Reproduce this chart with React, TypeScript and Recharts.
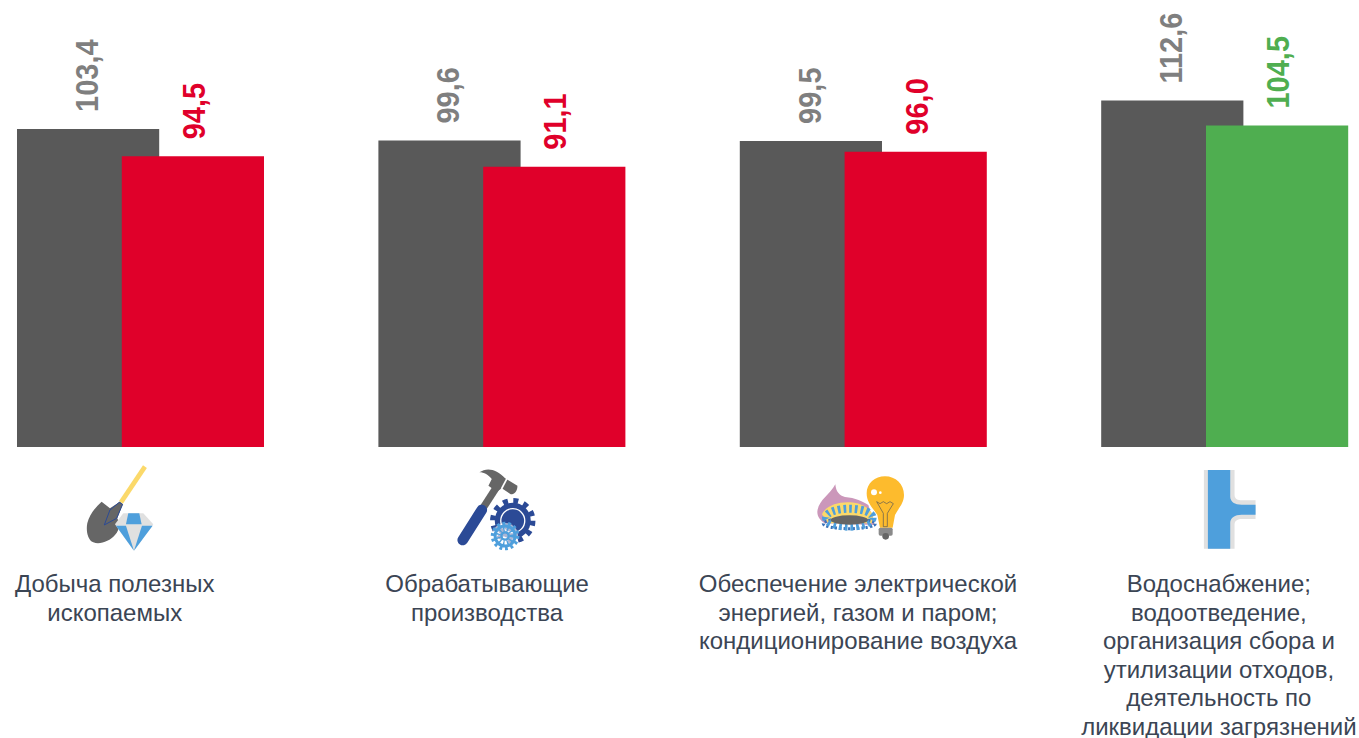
import React from "react";
import { BarChart, Bar, XAxis, YAxis, Cell, LabelList } from "recharts";

const categories = ["mining", "manufacturing", "energy", "water"];
const previousValues = [103.4, 99.6, 99.5, 112.6];
const currentValues = [94.5, 91.1, 96.0, 104.5];
const categoryLines = [
  ["Добыча полезных", "ископаемых"],
  ["Обрабатывающие", "производства"],
  ["Обеспечение электрической", "энергией, газом и паром;", "кондиционирование воздуха"],
  ["Водоснабжение;", "водоотведение,", "организация сбора и", "утилизации отходов,", "деятельность по", "ликвидации загрязнений"],
];

const data = categories.map((name, i) => ({
  name,
  previous: previousValues[i],
  current: currentValues[i],
}));

const GREY = "#595959";
const RED = "#e0002a";
const GREEN = "#4fae50";
const LABEL_GREY = "#7f7f7f";
const TEXT = "#3b4554";
const BLUE = "#4e9fdc";
const NAVY = "#2b4a96";

// horizontal shift of the caption against the bar group
const textShift = [-26, -15, -5.5, -6];
// left edge of each icon against the bar group (icons are drawn at 3x)
const iconShift = [-80.75, -62, -63.5, -55];

const ShovelIcon = () => (
  <g>
    <line x1={255} y1={35} x2={183} y2={142} stroke="#fbd96a" strokeWidth={14} />
    <path d="M125,140 L150,160 L180,140 L188,148 L172,190 C180,205 180,225 165,240 C150,258 120,270 100,262 C82,255 78,225 82,205 C88,180 105,158 125,140 Z" fill="#666666" />
    <path d="M178,142 L188,148 L170,190 L133,210 L150,165 Z" fill="#666666" stroke={NAVY} strokeWidth={3} />
    <path d="M190,175 L250,175 L280,208 L222,287 L165,208 Z" fill="#e0e0e0" />
    <path d="M205,175 L238,175 L245,208 L198,208 Z" fill={BLUE} />
    <path d="M198,212 L222,287 L168,212 Z" fill={BLUE} />
    <path d="M246,212 L222,287 L278,212 Z" fill={BLUE} />
  </g>
);

const HammerIcon = () => (
  <g>
    <line x1={170} y1={95} x2={125} y2={165} stroke="#666666" strokeWidth={22} />
    <line x1={125} y1={165} x2={68} y2={255} stroke={NAVY} strokeWidth={32} strokeLinecap="round" />
    <path d="M118,52 C140,36 170,42 195,70 L232,92 C232,108 224,118 212,118 L185,100 L170,110 L145,92 L155,72 C145,60 132,52 118,52 Z" fill="#666666" />
    <line x1={202} y1={68} x2={184} y2={102} stroke="#ffffff" strokeWidth={5} />
    <circle cx={218} cy={197} r={60} fill="none" stroke={NAVY} strokeWidth={16} strokeDasharray="15 16.4" />
    <circle cx={218} cy={197} r={54} fill={NAVY} />
    <circle cx={218} cy={197} r={36} fill="none" stroke="#ffffff" strokeWidth={4} />
    <circle cx={195} cy={243} r={39} fill="#ffffff" opacity={0.6} />
    <circle cx={195} cy={243} r={38} fill="none" stroke={BLUE} strokeWidth={10} strokeDasharray="8.5 8.5" />
    <circle cx={195} cy={243} r={30} fill="none" stroke={BLUE} strokeWidth={9} />
    <circle cx={195} cy={243} r={11} fill="none" stroke={BLUE} strokeWidth={7} />
    <circle cx={195} cy={243} r={20} fill="none" stroke={BLUE} strokeWidth={14} strokeDasharray="4 7" />
  </g>
);

const BurnerIcon = () => (
  <g>
    <path d="M52,170 C55,135 90,120 106,88 C108,110 118,122 135,126 C165,128 190,140 205,150 L225,210 L75,205 C60,195 52,185 52,170 Z" fill="#cb97ba" />
    <path d="M66,178 C75,155 110,140 150,142 C180,144 205,155 220,180 L215,205 L85,205 Z" fill="#fbd96a" />
    <ellipse cx={148} cy={206} rx={78} ry={15} fill="none" stroke="#3b72b8" strokeWidth={9} strokeDasharray="7 6" />
    <ellipse cx={148} cy={188} rx={70} ry={27} fill="none" stroke={BLUE} strokeWidth={24} strokeDasharray="8 9" />
    <ellipse cx={148} cy={195} rx={56} ry={14} fill="#666666" />
    <path d="M200,115 C200,85 225,64 255,64 C287,64 312,88 312,120 C312,145 295,160 285,180 L278,218 L240,218 L232,180 C220,160 200,145 200,115 Z" fill="#fdbb2d" />
    <circle cx={222} cy={112} r={9} fill="#ffffff" />
    <circle cx={241} cy={113} r={4} fill="#ffffff" />
    <path d="M230,140 L240,146 L250,140 L260,146 L270,140 L280,146 L262,175 L262,215 L250,215 L250,175 Z" fill="none" stroke="#555555" strokeWidth={2} />
    <rect x={236} y={218} width={42} height={24} rx={5} fill="#8a8a8a" />
    <circle cx={257} cy={244} r={10} fill="#666666" />
  </g>
);

const PipeIcon = () => (
  <g>
    <path d="M102,45 L194,45 L194,120 C194,132 205,136 215,136 L257,136 L257,192 L215,192 C205,192 194,196 194,208 L194,281 L102,281 Z" fill="#e0e0e0" />
    <path d="M114,45 L181,45 L181,125 C181,140 195,149 215,149 L257,149 L257,179 L215,179 C195,179 181,188 181,203 L181,281 L114,281 Z" fill={BLUE} />
  </g>
);

const icons = [ShovelIcon, HammerIcon, BurnerIcon, PipeIcon];

const CategoryTick = (props: any) => {
  const { x, index } = props;
  const Icon = icons[index];
  return (
    <g>
      <g transform={`translate(${x + iconShift[index]},455) scale(${1 / 3})`}>
        <Icon />
      </g>
      <text
        textAnchor="middle"
        fontFamily="Liberation Sans"
        fontSize={24}
        fill={TEXT}
      >
        {categoryLines[index].map((line, i) => (
          <tspan key={i} x={x + textShift[index]} y={592 + i * 28.6}>
            {line}
          </tspan>
        ))}
      </text>
    </g>
  );
};

const ValueLabel = (props: any) => {
  const { x, y, width, value, fill, shift } = props;
  const cx = x + width / 2;
  return (
    <text
      transform={`translate(${cx + shift},${y - 17}) rotate(-90) scale(1,1.06)`}
      fontFamily="Liberation Sans"
      fontSize={29}
      fontWeight="bold"
      fill={fill}
    >
      {value.toFixed(1).replace(".", ",")}
    </text>
  );
};

const App = () => {
  return (
    <div
      style={{
        position: "absolute",
        left: 0,
        top: 0,
        width: 1359,
        height: 738,
        overflow: "hidden",
        background: "#fff",
      }}
    >
      <div style={{ position: "absolute", left: -40, top: 0 }}>
        <BarChart
          width={1445.6}
          height={738}
          data={data}
          margin={{ top: 0, right: 0, bottom: 0, left: 0 }}
          barSize={142.2}
          barGap={-37.4}
        >
          <XAxis
            dataKey="name"
            height={291}
            axisLine={false}
            tickLine={false}
            interval={0}
            tick={<CategoryTick />}
          />
          <YAxis hide domain={[0, 145.3]} />
          <Bar dataKey="previous" fill={GREY} isAnimationActive={false}>
            <LabelList dataKey="previous" content={(p: any) => <ValueLabel {...p} fill={LABEL_GREY} shift={10} />} />
          </Bar>
          <Bar dataKey="current" fill={RED} isAnimationActive={false}>
            {data.map((d, i) => (
              <Cell key={d.name} fill={i === 3 ? GREEN : RED} />
            ))}
            <LabelList
              dataKey="current"
              content={(p: any) => <ValueLabel {...p} fill={p.index === 3 ? GREEN : RED} shift={12} />}
            />
          </Bar>
        </BarChart>
      </div>
    </div>
  );
};

export default App;
